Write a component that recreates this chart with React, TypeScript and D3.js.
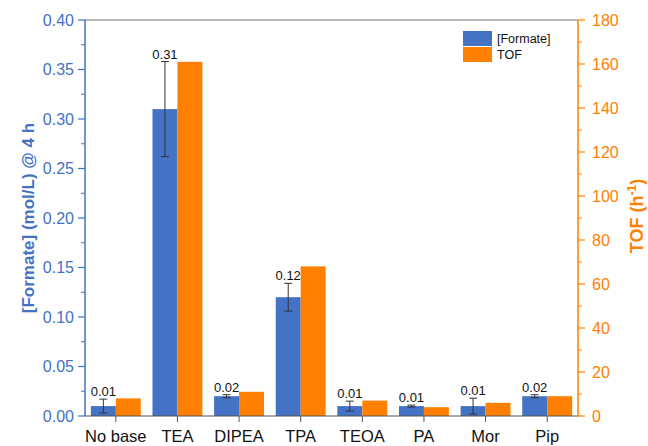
import React from "react";
import * as d3 from "d3";

// Base screening: formate concentration after 4 h and turnover frequency
const categories = ["No base", "TEA", "DIPEA", "TPA", "TEOA", "PA", "Mor", "Pip"];
const formate = [0.01, 0.31, 0.02, 0.12, 0.01, 0.01, 0.01, 0.02];
const formateErr = [0.007, 0.048, 0.0015, 0.014, 0.005, 0.001, 0.008, 0.0015];
const tof = [8, 161, 11, 68, 7, 4, 6, 9];
const leftTicks = [0, 0.05, 0.1, 0.15, 0.2, 0.25, 0.3, 0.35, 0.4];
const rightTicks = [0, 20, 40, 60, 80, 100, 120, 140, 160, 180];

const BLUE = "#4472C4";
const ORANGE = "#FF8000";

const W = 648;
const H = 446;
const m = { left: 85, right: 70, top: 20, bottom: 30 };
const x0 = m.left;
const x1 = W - m.right;
const y0 = H - m.bottom;
const y1 = m.top;

export default function App() {
  const xBand = d3.scaleBand<string>().domain(categories).range([x0, x1]).paddingInner(0.19).paddingOuter(0.095);
  const xSub = d3.scaleBand<string>().domain(["f", "t"]).range([0, xBand.bandwidth()]);
  const yL = d3.scaleLinear().domain([0, 0.4]).range([y0, y1]);
  const yR = d3.scaleLinear().domain([0, 180]).range([y0, y1]);
  const leftMinor = d3.range(0.025, 0.4, 0.05);
  const rightMinor = d3.range(10, 180, 20);
  const font = "Arial, 'Liberation Sans', sans-serif";

  return (
    <svg width={W} height={H} style={{ position: "absolute", left: 0, top: 0 }} fontFamily={font}>
      <rect x={0} y={0} width={W} height={H} fill="#fff" />
      {/* top frame */}
      <line x1={x0} x2={x1} y1={y1} y2={y1} stroke="#777" strokeWidth={1.2} />

      {/* bars */}
      {categories.map((c, i) => {
        const bx = xBand(c)!;
        const fx = bx + xSub("f")!;
        const tx = bx + xSub("t")!;
        const bw = xSub.bandwidth();
        const cx = fx + bw / 2;
        const eTop = yL(formate[i] + formateErr[i]);
        const eBot = yL(formate[i] - formateErr[i]);
        return (
          <g key={c}>
            <rect x={fx} y={yL(formate[i])} width={bw} height={y0 - yL(formate[i])} fill={BLUE} />
            <rect x={tx} y={yR(tof[i])} width={bw} height={y0 - yR(tof[i])} fill={ORANGE} />
            <g stroke="#333" strokeWidth={1}>
              <line x1={cx} x2={cx} y1={eTop} y2={eBot} />
              <line x1={cx - 4} x2={cx + 4} y1={eTop} y2={eTop} />
              <line x1={cx - 4} x2={cx + 4} y1={eBot} y2={eBot} />
            </g>
            <text x={cx} y={eTop - 3} textAnchor="middle" fontSize={13} fill="#111">
              {formate[i].toFixed(2)}
            </text>
          </g>
        );
      })}

      {/* bottom axis */}
      <line x1={x0} x2={x1} y1={y0} y2={y0} stroke="#555" strokeWidth={1.2} />
      {categories.map((c) => {
        const cx = xBand(c)! + xBand.bandwidth() / 2;
        return (
          <g key={c}>
            <line x1={cx} x2={cx} y1={y0} y2={y0 + 6} stroke="#555" strokeWidth={1} />
            <text x={cx} y={y0 + 26} textAnchor="middle" fontSize={16.5} fill="#111">
              {c}
            </text>
          </g>
        );
      })}

      {/* left axis */}
      <line x1={x0} x2={x0} y1={y1} y2={y0} stroke={BLUE} strokeWidth={1.5} />
      {leftTicks.map((t) => (
        <g key={t}>
          <line x1={x0 - 7} x2={x0} y1={yL(t)} y2={yL(t)} stroke={BLUE} strokeWidth={1.2} />
          <text x={x0 - 11} y={yL(t) + 5.5} textAnchor="end" fontSize={16} fill={BLUE}>
            {t.toFixed(2)}
          </text>
        </g>
      ))}
      {leftMinor.map((t) => (
        <line key={t} x1={x0 - 4} x2={x0} y1={yL(t)} y2={yL(t)} stroke={BLUE} strokeWidth={1} />
      ))}
      <text
        transform={`translate(34,${(y0 + y1) / 2}) rotate(-90)`}
        textAnchor="middle"
        fontSize={17}
        fontWeight="bold"
        fill={BLUE}
      >
        [Formate] (mol/L) @ 4 h
      </text>

      {/* right axis */}
      <line x1={x1} x2={x1} y1={y1} y2={y0} stroke={ORANGE} strokeWidth={1.5} />
      {rightTicks.map((t) => (
        <g key={t}>
          <line x1={x1} x2={x1 + 7} y1={yR(t)} y2={yR(t)} stroke={ORANGE} strokeWidth={1.2} />
          <text x={x1 + 14} y={yR(t) + 5.5} textAnchor="start" fontSize={16} fill={ORANGE}>
            {t}
          </text>
        </g>
      ))}
      {rightMinor.map((t) => (
        <line key={t} x1={x1} x2={x1 + 4} y1={yR(t)} y2={yR(t)} stroke={ORANGE} strokeWidth={1} />
      ))}
      <text
        transform={`translate(643,${(y0 + y1) / 2 - 2}) rotate(-90)`}
        textAnchor="middle"
        fontSize={18}
        fontWeight="bold"
        fill={ORANGE}
      >
        TOF (h
        <tspan dy={-7} fontSize={12}>-1</tspan>
        <tspan dy={7}>)</tspan>
      </text>

      {/* legend */}
      <rect x={463} y={31} width={29} height={15} fill={BLUE} />
      <rect x={463} y={47} width={29} height={15} fill={ORANGE} />
      <text x={497} y={43} fontSize={12.5} fill="#111">[Formate]</text>
      <text x={497} y={59} fontSize={12.5} fill="#111">TOF</text>
    </svg>
  );
}
